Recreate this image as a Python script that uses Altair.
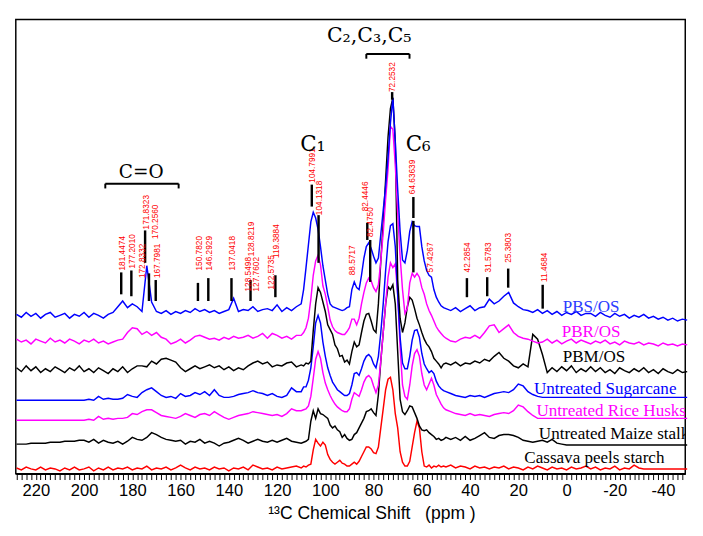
import altair as alt
import pandas as pd

# ---------------- x sampling (ppm) ----------------
ppm_a = list(range(228, 110, -2))   # 228 .. 112
ppm_b = list(range(110, 50, -1))    # 110 .. 51
ppm_c = list(range(50, -51, -2))    # 50 .. -50
ppm = ppm_a + ppm_b + ppm_c

names = ["PBS/OS", "PBR/OS", "PBM/OS", "Untreated Sugarcane",
         "Untreated Rice Husks", "Untreated Maize stalk", "Cassava peels starch"]
line_colors = ["#0000ff", "#ff00ff", "#000000", "#0000ff", "#ff00ff", "#000000", "#ff0000"]
label_colors = ["#2b3cff", "#ff00ff", "#000000", "#0000ff", "#ff00ff", "#000000", "#000000"]
baselines = [166, 139, 109, 77, 56, 31, 5]

# ---------------- spectra (intensity above own baseline) ----------------
pbs_os = [1, -2, 3, -1, 2, -3, 1, 3, -2, 0,
          2, -3, 1, -1, 3, -2, 2, 0, -3, 1,
          3, 9, 15, 8, 12, 9, 4, 52, 14, 4,
          2, 5, 1, 4, 2, 5, 3, 7, 4, 6,
          3, 5, 2, 4, 6, 18, 4, 6, 5, 9,
          4, 6, 7, 5, 11, 4, 8, 5, 9,
          12, 27, 50, 74, 98, 108, 102, 90, 72, 52,
          37, 22, 12, 9, 8, 7, 6, 5, 6, 8,
          9, 27, 35, 29, 27, 42, 60, 72, 76, 70,
          62, 55, 60, 85, 110, 135, 165, 202, 228, 182,
          132, 88, 58, 55, 68, 88, 98, 94, 93, 93,
          72, 57, 47, 42, 40, 27, 19, 14, 10, 8,
          7, 5, 8, 4, 7, 10, 5, 8, 9, 17,
          12, 15, 20, 24, 13, 9, 6, 5, 3, 6,
          2, 5, 1, 4, 0, 3, 1, 4, 0, 2,
          2, -1, 3, 0, -2, 2, -1, 1, -3, 0,
          -2, 1, -3, -1, -4, -2, -5, -3, -6, -4, -5]

pbr_os = [2, -1, 1, -3, 2, 0, -2, 3, -1, 1,
          -2, 2, 0, -3, 1, -1, 2, -2, 0, -3,
          -1, 1, 2, 9, 14, 13, 7, 10, 6, 9,
          4, 2, -3, -1, 2, -2, 1, 5, 6, 4,
          2, 3, 1, 4, 2, 5, 3, 4, 6, 3,
          5, 8, 3, 8, 6, 3, 5, 2, 6,
          6, 9, 14, 24, 44, 69, 84, 90, 80, 58,
          49, 36, 22, 15, 11, 9, 8, 7, 7, 10,
          14, 23, 23, 17, 24, 39, 51, 61, 66, 63,
          56, 52, 59, 84, 114, 149, 180, 225, 222, 185,
          134, 89, 54, 29, 34, 61, 71, 67, 71, 67,
          56, 49, 39, 32, 27, 21, 15, 11, 8, 5,
          3, 0, -1, 2, 4, 3, 6, 3, 9, 16,
          17, 9, 13, 17, 9, 5, 3, 2, 0, -2,
          -1, 2, -2, 1, -3, 0, 2, -2, 1, -1,
          -3, 0, -2, 1, -3, -1, -4, 0, -2, -3,
          -1, -4, -2, -3, -5, -2, -4, -3, -5, -3, -4]

pbm_os = [2, -2, 4, -1, 3, -3, 1, -2, 3, 0,
          -3, 2, -1, 4, -2, 1, -3, 2, -1, -4,
          1, -2, 3, -3, 1, 4, 4, 3, 9, 6,
          11, 12, 10, 8, 2, -2, 1, 4, 1, 3,
          5, 2, 4, 0, 3, -1, 2, 0, 4, 7,
          9, 6, 8, 3, 5, 4, 7, 8, 3,
          5, 4, 7, 6, 9, 41, 69, 86, 81, 71,
          61, 47, 42, 37, 26, 22, 14, 15, 8, 10,
          6, 19, 29, 24, 26, 39, 51, 58, 59, 51,
          42, 39, 69, 114, 154, 199, 244, 274, 285, 239,
          94, 54, 39, 49, 66, 76, 73, 64, 54, 47,
          39, 32, 27, 24, 19, 12, 9, 6, 2, 6,
          7, 5, 8, 4, 7, 6, 9, 7, 11, 9,
          14, 18, 12, 9, 4, 2, 6, 3, 37, 32,
          16, -3, 2, -2, 3, -1, 4, -3, 1, -2,
          3, -2, 2, -3, 0, -4, 2, -1, -3, 1,
          -2, 2, -3, 0, -4, 1, -2, -4, 0, -3, -2]

sugarcane = [0, 0, 0, 0, 0, 0, 0, 0, 0, 0,
             0, 0, 0, 0, 0, 1, 0, 4, 1, 2,
             1, 1, 2, 6, 4, 3, 8, 11, 13, 9,
             5, 3, 4, 2, 7, 4, 5, 8, 6, 9,
             5, 11, 5, 3, 3, 4, 6, 7, 8, 10,
             8, 7, 5, 7, 4, 3, 5, 13, 9,
             9, 14, 14, 21, 34, 56, 81, 89, 81, 61,
             46, 34, 26, 19, 15, 11, 9, 7, 5, 5,
             7, 16, 28, 29, 26, 33, 41, 46, 48, 45,
             38, 34, 46, 71, 101, 136, 166, 183, 185, 161,
             111, 66, 39, 33, 33, 46, 63, 73, 74, 66,
             49, 38, 33, 29, 31, 28, 20, 15, 12, 10,
             9, 7, 5, 4, 3, 5, 4, 5, 3, 5,
             7, 8, 9, 8, 11, 17, 15, 9, 6, 4,
             3, 3, 3, 3, 3, 3, 3, 3, 3, 3,
             3, 3, 3, 3, 3, 3, 3, 3, 3, 3,
             3, 3, 3, 3, 3, 3, 3, 3, 3, 3, 3]

rice = [0, 0, 0, 0, 0, 0, 0, 0, 0, 0,
        0, 0, 0, 0, 0, 1, 0, 4, 1, 2,
        1, 2, 2, 3, 7, 6, 9, 11, 11, 8,
        5, 4, 3, 2, 4, 7, 5, 3, 6, 7,
        5, 9, 6, 3, 1, 3, 5, 6, 7, 9,
        8, 7, 6, 5, 6, 4, 7, 12, 10,
        10, 11, 12, 15, 25, 44, 64, 72, 65, 50,
        39, 32, 26, 21, 17, 14, 12, 10, 9, 9,
        12, 22, 29, 27, 25, 32, 40, 45, 47, 44,
        36, 29, 37, 62, 92, 122, 150, 165, 160, 164,
        132, 77, 37, 25, 22, 37, 57, 70, 74, 67,
        49, 37, 32, 38, 44, 37, 27, 22, 17, 13,
        11, 9, 7, 6, 5, 7, 5, 6, 5, 4,
        6, 7, 8, 7, 10, 16, 14, 9, 5, 2,
        2, 2, 2, 2, 2, 2, 2, 2, 2, 2,
        2, 2, 2, 2, 2, 2, 2, 2, 2, 2,
        2, 2, 2, 2, 2, 2, 2, 2, 2, 2, 2]

maize = [0, 0, 0, 1, 1, 1, 1, 2, 2, 2,
         3, 3, 3, 4, 4, 2, 5, 1, 4, 2,
         1, 3, 0, 3, 7, 5, 4, 7, 12, 10,
         7, 5, 4, 3, 4, 0, 3, 2, 5, 1,
         3, 1, -2, 1, 2, 4, 6, 4, 1, 3,
         5, 3, 2, 4, 2, 4, 6, 3, 2,
         1, 2, 3, 5, 24, 35, 27, 37, 32, 31,
         29, 27, 20, 17, 19, 15, 13, 7, 10, 6,
         4, 5, 10, 12, 17, 22, 27, 34, 35, 37,
         33, 30, 52, 87, 117, 147, 165, 162, 167, 147,
         97, 47, 34, 31, 35, 40, 39, 33, 27, 19,
         15, 14, 15, 12, 10, 8, 5, 6, 4, 5,
         7, 5, 7, 4, 8, 4, 6, 9, 12, 7,
         6, 9, 10, 10, 9, 7, 4, 3, 2, 3,
         4, 2, 5, 1, 0, -1, -1, -1, -1, -1,
         -1, -1, -1, -1, -1, -1, -1, -1, -1, -1,
         -1, -1, -1, -1, -1, -1, -1, -1, -1, -1, -1]

cassava = [1, -1, 2, 0, -1, 2, -1, 1, 0, -2,
           1, -1, 2, -1, 0, 2, -2, 1, -1, 2,
           -1, 1, 0, 2, -1, 1, 0, 3, -1, 1,
           0, 2, -1, 1, 4, 1, -1, 2, 0, 1,
           -1, 2, 0, 1, -2, 1, 0, 2, -1, 4,
           2, 0, 1, -1, 2, 0, 1, 2, 3,
           1, 3, 2, 4, 5, 20, 31, 27, 24, 28,
           25, 15, 10, 7, 5, 7, 9, 6, 5, 3,
           3, 5, 7, 5, 8, 13, 18, 23, 23, 21,
           17, 16, 23, 43, 63, 83, 94, 96, 83, 58,
           43, 18, 7, 3, 3, 8, 23, 38, 50, 43,
           18, 3, 2, 4, 1, 3, 2, 4, 2, 3,
           2, 4, 1, 3, 2, 0, 3, 1, 2, 0,
           2, 1, 3, 0, 2, 1, -1, 2, 0, 3,
           1, -1, 2, 0, 1, -1, 2, 0, 1, 3,
           0, 2, -1, 1, 0, 3, -1, 1, 0, 4,
           1, 0, 0, 0, 0, 0, 0, 0, 0, 0, 0]

series_h = [pbs_os, pbr_os, pbm_os, sugarcane, rice, maize, cassava]

# series name labels
name_ppm = [1.6, 2.0, 1.6, 13.5, 12.5, 11.5, 17.5]
name_I = [170, 143, 117, 84, 60, 36, 11]

# peak value labels (red, rotated)
peak_text = ["181.4474", "177.2010", "172.8332", "171.8323", "170.2560", "167.7981",
             "150.7820", "146.2929", "137.0418", "128.5498", "128.8219", "127.7602",
             "122.5735", "119.3884", "104.7991", "104.1318", "88.5717", "82.4446",
             "82.4750", "72.2532", "64.63639", "57.4267", "42.2854", "31.5783",
             "25.3803", "11.4684"]
peak_ppm = [184.2, 180.2, 176.1, 174.5, 170.7, 169.9,
            152.2, 148.1, 138.5, 132.2, 130.8, 128.6,
            122.3, 120.5, 105.6, 102.6, 88.9, 83.4,
            81.4, 72.3, 63.9, 56.4, 41.3, 32.6,
            24.2, 9.5]
peak_I = [213, 215, 205, 256, 246, 205,
          213, 213, 213, 191, 228, 191,
          193, 226, 305, 271, 208, 275,
          248, 400, 293, 211, 211, 211,
          221, 201]

# black marker ticks
tick_ppm = [184.6, 180.4, 174.7, 173.1, 170.3, 152.8, 148.5, 138.9, 131.0, 120.7,
            105.6, 102.8, 82.6, 81.4, 72.3, 63.5, 63.5, 41.3, 32.9, 24.2, 9.9]
tick_top = [211, 213, 255, 210, 203, 200, 205, 205, 203, 208,
            303, 271, 263, 245, 400, 290, 265, 205, 206, 215, 198]
tick_bot = [188, 186, 221, 181, 181, 181, 181, 181, 181, 185,
            280, 221, 245, 201, 392, 268, 211, 185, 186, 195, 173]

# group labels and brackets
group_text = ["C=O", "C\u2081", "C\u2082,C\u2083,C\u2085", "C\u2086"]
group_ppm = [176.3, 105.2, 81.8, 61.5]
group_I = [310, 338, 453, 338]
group_size = [19, 22, 21, 22]

bracket_from = [191.2, 83.0]
bracket_to = [160.8, 65.1]
bracket_I = [304, 440]
bracket_end = [299, 435]

# ---------------- chart ----------------
xs = alt.Scale(domain=[228.3, -49.2], nice=False, zero=False)
ys = alt.Scale(domain=[0, 476], nice=False, zero=False)

xaxis = alt.Axis(
    values=list(range(-48, 229, 2)),
    labelExpr="datum.value % 20 === 0 ? '' + datum.value : ''",
    tickSize=6, tickWidth=1, tickColor="black",
    domainColor="black", domainWidth=1.5,
    labelFont="Liberation Sans", labelFontSize=17, labelColor="black",
    labelPadding=3, labelOverlap=False, labelFlush=False, grid=False,
    title="\u00b9\u00b3C Chemical Shift\u00a0\u00a0\u00a0(ppm )",
    titleFont="Liberation Sans", titleFontSize=18, titleFontWeight="normal",
    titleColor="black", titleX=365, titleY=46, titleAlign="center",
    titleBaseline="alphabetic",
)
X = alt.X("ppm:Q", scale=xs, axis=xaxis)
Y = alt.Y("I:Q", scale=ys, axis=None)

layers = []
for k in range(len(names) - 1, -1, -1):
    df = pd.DataFrame({"ppm": ppm, "I": [baselines[k] + v for v in series_h[k]]})
    layers.append(
        alt.Chart(df).mark_line(color=line_colors[k], strokeWidth=1.5).encode(x=X, y=Y)
    )

ticks_df = pd.DataFrame({"ppm": tick_ppm, "I": tick_bot, "I2": tick_top})
layers.append(alt.Chart(ticks_df).mark_rule(color="black", strokeWidth=2.5)
              .encode(x=X, y=Y, y2="I2:Q"))

peaks_df = pd.DataFrame({"ppm": peak_ppm, "I": peak_I, "t": peak_text})
layers.append(alt.Chart(peaks_df).mark_text(
    angle=270, align="left", baseline="middle", fontSize=8.5,
    font="Liberation Sans", color="#ff0000").encode(x=X, y=Y, text="t:N"))

br_df = pd.DataFrame({"ppm": bracket_from, "ppm2": bracket_to, "I": bracket_I})
layers.append(alt.Chart(br_df).mark_rule(color="black", strokeWidth=2)
              .encode(x=X, x2="ppm2:Q", y=Y))
br_end_df = pd.DataFrame({"ppm": bracket_from + bracket_to,
                          "I": bracket_end + bracket_end,
                          "I2": bracket_I + bracket_I})
layers.append(alt.Chart(br_end_df).mark_rule(color="black", strokeWidth=2)
              .encode(x=X, y=Y, y2="I2:Q"))

grp_df = pd.DataFrame({"ppm": group_ppm, "I": group_I, "t": group_text, "s": group_size})
layers.append(alt.Chart(grp_df).mark_text(
    align="center", baseline="alphabetic", font="DejaVu Serif", color="black")
    .encode(x=X, y=Y, text="t:N", size=alt.Size("s:Q", scale=None)))

names_df = pd.DataFrame({"ppm": name_ppm, "I": name_I, "t": names, "c": label_colors})
layers.append(alt.Chart(names_df).mark_text(
    align="left", baseline="alphabetic", font="Liberation Serif", fontSize=17.5, clip=True)
    .encode(x=X, y=Y, text="t:N", color=alt.Color("c:N", scale=None)))

chart = alt.layer(*layers).properties(
    width=687, height=466, background="white"
).configure_view(stroke="black", strokeWidth=1.5)

chart.save("out.html", embed_options={"renderer": "svg", "actions": False})
